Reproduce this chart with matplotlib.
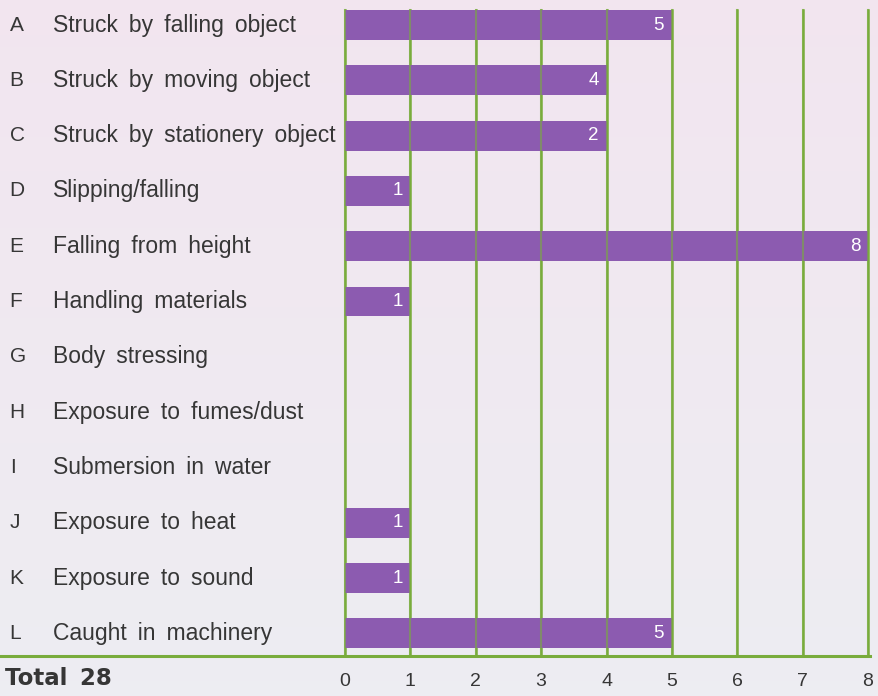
import numpy as np
import matplotlib.pyplot as plt
from matplotlib.lines import Line2D

# chart data
letters = ["A", "B", "C", "D", "E", "F", "G", "H", "I", "J", "K", "L"]
causes = [
    "Struck by falling object",
    "Struck by moving object",
    "Struck by stationery object",
    "Slipping/falling",
    "Falling from height",
    "Handling materials",
    "Body stressing",
    "Exposure to fumes/dust",
    "Submersion in water",
    "Exposure to heat",
    "Exposure to sound",
    "Caught in machinery",
]
# printed counts, and bar lengths as drawn in the original (C is drawn to 4)
counts = [5, 4, 2, 1, 8, 1, 0, 0, 0, 1, 1, 5]
bar_lengths = [5, 4, 4, 1, 8, 1, 0, 0, 0, 1, 1, 5]
x_ticks = [0, 1, 2, 3, 4, 5, 6, 7, 8]
total_label = "Total 28"

purple = "#8c5bb0"
green = "#79ac3c"
text_col = "#363636"

plt.rcParams["font.family"] = ["Liberation Sans", "DejaVu Sans"]

fig = plt.figure(figsize=(8.79, 6.96), dpi=100)

# soft pink-to-grey background
bg = fig.add_axes([0, 0, 1, 1], zorder=-10)
grad = np.linspace(0, 1, 256).reshape(-1, 1)
top = np.array([0.95, 0.90, 0.94])
bottom = np.array([0.93, 0.93, 0.95])
img = top + grad[:, :, None] * (bottom - top)
bg.imshow(img, aspect="auto", extent=[0, 1, 0, 1])
bg.axis("off")

ax = fig.add_axes([0.3925, 0.0575, 0.595, 0.928])
ax.patch.set_alpha(0)
y = np.arange(len(causes))
ax.set_xlim(0, 8)
ax.set_ylim(11.41, -0.27)

for xv in x_ticks:
    ax.axvline(xv, color=green, lw=1.8, zorder=1, clip_on=False)
ax.barh(y, bar_lengths, height=0.54, color=purple, zorder=2)
for xv in x_ticks:
    ax.axvline(xv, color=green, lw=1.5, alpha=0.6, zorder=3, clip_on=False)

for yi, length, c in zip(y, bar_lengths, counts):
    if c > 0:
        ax.text(length - 0.12, yi, str(c), ha="right", va="center",
                color="white", fontsize=13.5, zorder=4)

ax.set_xticks(x_ticks)
ax.set_xticklabels([str(t) for t in x_ticks], fontsize=14, color=text_col)
ax.tick_params(axis="x", length=0, pad=12)
ax.set_yticks([])
for s in ax.spines.values():
    s.set_visible(False)

# category labels on the left (slightly wider word spacing as in the print)
for yi, let, cause in zip(y, letters, causes):
    ax.text(-5.13, yi, let, ha="left", va="center", fontsize=15, color=text_col)
    ax.text(-4.46, yi, cause.replace(" ", " \u2009"), ha="left", va="center",
            fontsize=16.5, color=text_col)

# bottom rule across the full width
fig.add_artist(Line2D([0, 0.99], [0.0575, 0.0575], color=green, lw=2.2,
                      transform=fig.transFigure))
fig.text(0.006, 0.025, total_label.replace(" ", " \u2009"), fontsize=16.5,
         fontweight="heavy", family="DejaVu Sans", color=text_col,
         ha="left", va="center")

plt.savefig("out.png", dpi=100)
